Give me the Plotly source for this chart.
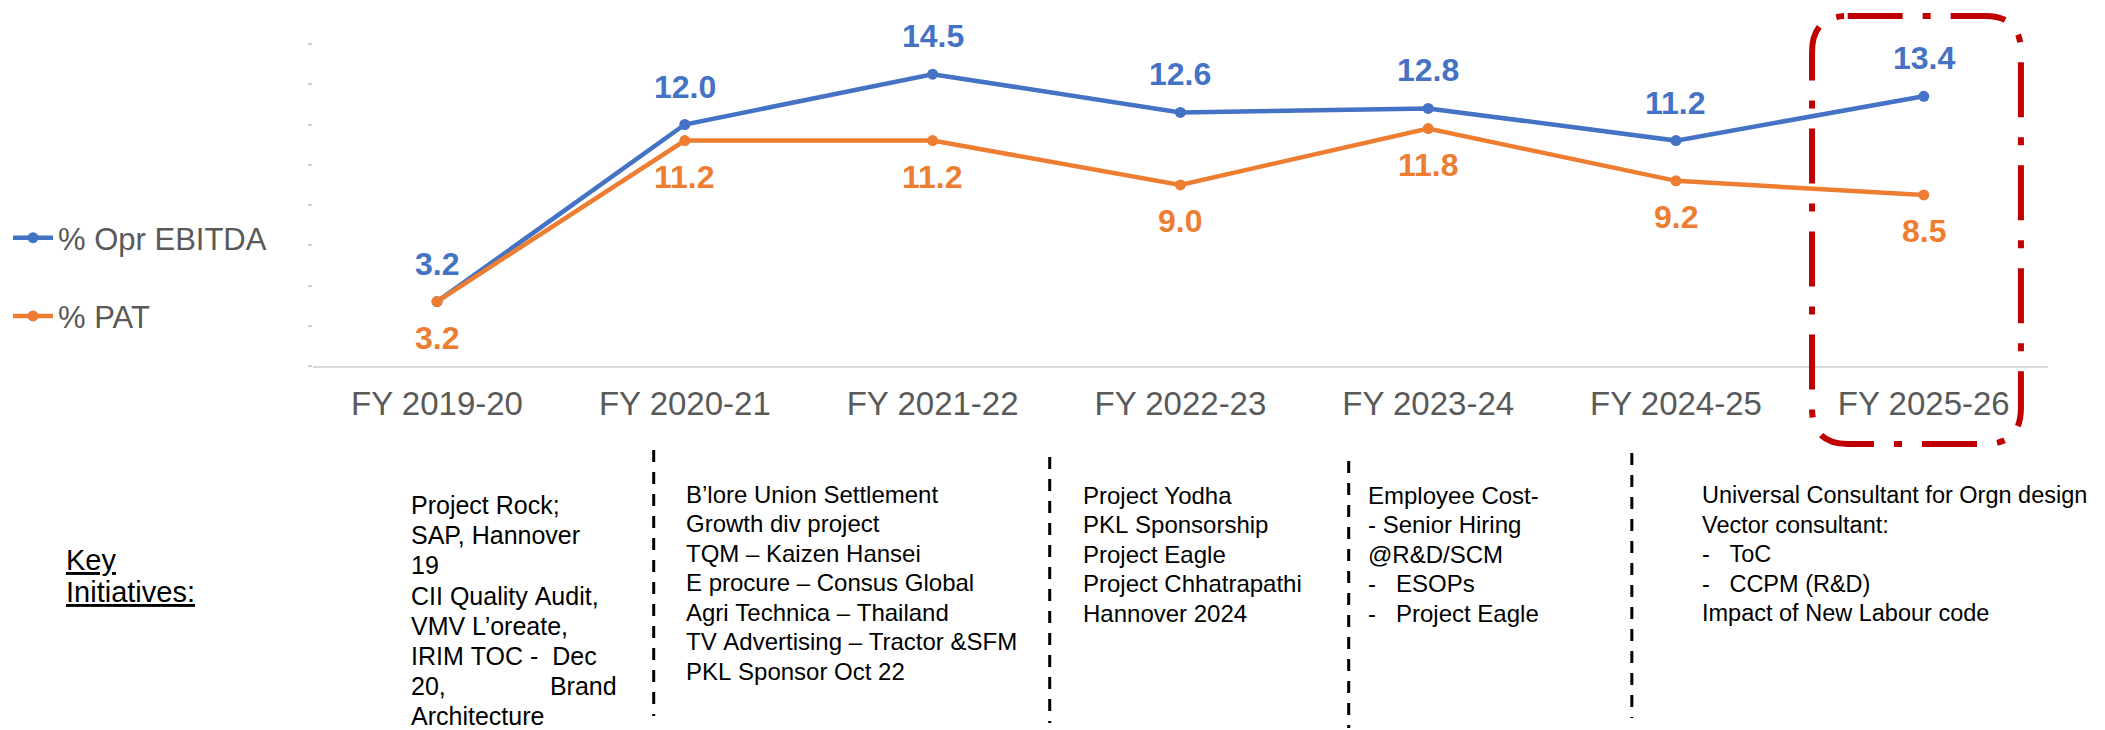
import plotly.graph_objects as go

# ---------------- data ----------------
categories = ["FY 2019-20", "FY 2020-21", "FY 2021-22", "FY 2022-23",
              "FY 2023-24", "FY 2024-25", "FY 2025-26"]
ebitda_pct = [3.2, 12.0, 14.5, 12.6, 12.8, 11.2, 13.4]
pat_pct = [3.2, 11.2, 11.2, 9.0, 11.8, 9.2, 8.5]
series_names = ["% Opr EBITDA", "% PAT"]
y_tick_values = [0, 2, 4, 6, 8, 10, 12, 14, 16]

key_title = ["Key", "Initiatives:"]
initiatives_fy20 = ["Project Rock;", "SAP, Hannover", "19", "CII Quality Audit,",
                    "VMV L’oreate,", "IRIM TOC -  Dec",
                    "20,               Brand", "Architecture"]
initiatives_fy21_22 = ["B’lore Union Settlement", "Growth div project",
                       "TQM – Kaizen Hansei", "E procure – Consus Global",
                       "Agri Technica – Thailand", "TV Advertising – Tractor &SFM",
                       "PKL Sponsor Oct 22"]
initiatives_fy23 = ["Project Yodha", "PKL Sponsorship", "Project Eagle",
                    "Project Chhatrapathi", "Hannover 2024"]
initiatives_fy24 = ["Employee Cost-", "- Senior Hiring", "@R&D/SCM",
                    "-   ESOPs", "-   Project Eagle"]
initiatives_fy26 = ["Universal Consultant for Orgn design", "Vector consultant:",
                    "-   ToC", "-   CCPM (R&D)", "Impact of New Labour code"]

# ---------------- styling / layout ----------------
W, H = 2105, 730
FONT = "Liberation Sans, Arial, sans-serif"
BLUE = "#4472C4"
ORANGE = "#ED7D31"
GREY_TXT = "#595959"


def px_x(v):
    return v / W


def px_y(v):
    return 1 - v / H


fig = go.Figure()

for name, vals, col, group in [(series_names[0], ebitda_pct, BLUE, "g1"),
                               (series_names[1], pat_pct, ORANGE, "g2")]:
    fig.add_trace(go.Scatter(
        x=categories, y=vals, name=name, mode="lines+markers",
        line=dict(color=col, width=4.5),
        marker=dict(color=col, size=11),
        legendgroup=group,
    ))

# data labels
for c, v in zip(categories, ebitda_pct):
    fig.add_annotation(x=c, y=v, xref="x", yref="y", text=f"{v:.1f}",
                       showarrow=False, yshift=38,
                       font=dict(family=FONT, size=32, color=BLUE, weight="bold"))
for c, v in zip(categories, pat_pct):
    fig.add_annotation(x=c, y=v, xref="x", yref="y", text=f"{v:.1f}",
                       showarrow=False, yshift=-36,
                       font=dict(family=FONT, size=32, color=ORANGE, weight="bold"))

# Key initiatives title
for i, t in enumerate(key_title):
    fig.add_annotation(xref="paper", yref="paper", x=px_x(35), y=px_y(552 + i * 32),
                       xanchor="left", yanchor="middle", showarrow=False,
                       text=f"<u>{t}</u>",
                       font=dict(family=FONT, size=29, color="black"))


def add_block(lines, x0, y0, pitch, size):
    for i, t in enumerate(lines):
        fig.add_annotation(xref="paper", yref="paper", x=px_x(x0),
                           y=px_y(y0 + i * pitch), xanchor="left", yanchor="middle",
                           showarrow=False, text=t.replace(" ", "\u00a0"),
                           font=dict(family=FONT, size=size, color="black"))


add_block(initiatives_fy20, 384, 497, 30.2, 25)
add_block(initiatives_fy21_22, 662, 486, 29.5, 24)
add_block(initiatives_fy23, 1063, 487, 29.5, 24)
add_block(initiatives_fy24, 1350, 487, 29.5, 24)
add_block(initiatives_fy26, 1688, 487, 29.5, 23.5)

shapes = []
# dashed separators
for xs, y0, y1 in [(631, 442, 708), (1031, 449, 715), (1333, 453, 720), (1619, 445, 710)]:
    shapes.append(dict(type="line", xref="paper", yref="paper",
                       x0=px_x(xs), x1=px_x(xs), y0=px_y(y0), y1=px_y(y1),
                       line=dict(color="black", width=3, dash="12px,10px")))

# red rounded dash-dot box
L, R, T, B, r = 1801, 2012, 8, 436, 36
path = (f"M {px_x(L + r)},{px_y(T)} H {px_x(R - r)} "
        f"Q {px_x(R)},{px_y(T)} {px_x(R)},{px_y(T + r)} V {px_y(B - r)} "
        f"Q {px_x(R)},{px_y(B)} {px_x(R - r)},{px_y(B)} H {px_x(L + r)} "
        f"Q {px_x(L)},{px_y(B)} {px_x(L)},{px_y(B - r)} V {px_y(T + r)} "
        f"Q {px_x(L)},{px_y(T)} {px_x(L + r)},{px_y(T)} Z")
shapes.append(dict(type="path", xref="paper", yref="paper", path=path,
                   line=dict(color="#C00000", width=6, dash="55px,20px,8px,20px"),
                   layer="above"))

fig.update_layout(
    width=W, height=H,
    margin=dict(l=0, r=0, t=0, b=0),
    paper_bgcolor="white", plot_bgcolor="white",
    font=dict(family=FONT, color=GREY_TXT),
    shapes=shapes,
    showlegend=True,
    legend=dict(x=-0.0102, y=px_y(269), xanchor="left", yanchor="middle",
                font=dict(family=FONT, size=31, color=GREY_TXT),
                bgcolor="rgba(0,0,0,0)", tracegroupgap=35, itemwidth=40,
                traceorder="grouped"),
    xaxis=dict(domain=[px_x(287), px_x(2039)], type="category",
               range=[-0.5, 6.5], showgrid=False, zeroline=False,
               showline=True, linecolor="#d9d9d9", linewidth=2,
               ticks="", tickfont=dict(family=FONT, size=33, color=GREY_TXT),
               ticklabelstandoff=7),
    yaxis=dict(domain=[px_y(358), px_y(36)], range=[0, 16],
               showgrid=False, zeroline=False, showline=False,
               tickvals=y_tick_values, showticklabels=False,
               ticks="outside", ticklen=4, tickwidth=2, tickcolor="#d0d0d0"),
)

fig.write_html("out.html")
